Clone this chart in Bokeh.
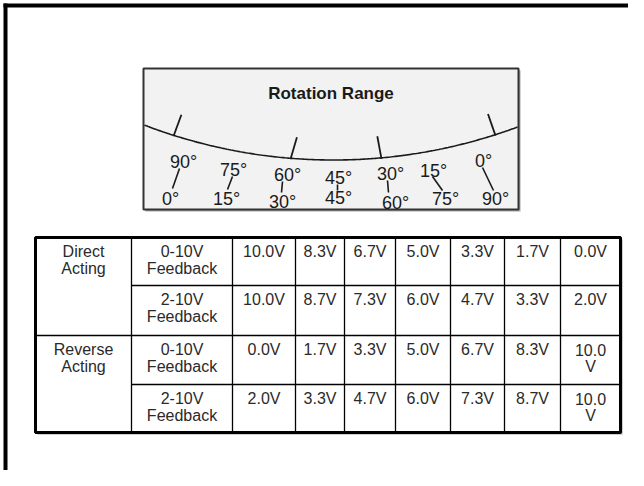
import numpy as np
from bokeh.plotting import figure
from bokeh.models import ColumnDataSource, Range1d
from bokeh.core.properties import value
from bokeh.embed import file_html
from bokeh.resources import INLINE

# ---------------- data ----------------
dial_title = "Rotation Range"
dial_top_labels = ["90°", "75°", "60°", "45°", "30°", "15°", "0°"]
dial_bottom_labels = ["0°", "15°", "30°", "45°", "60°", "75°", "90°"]

action_modes = ["Direct\nActing", "Reverse\nActing"]
feedback_types = ["0-10V\nFeedback", "2-10V\nFeedback"]
direct_0_10 = [10.0, 8.3, 6.7, 5.0, 3.3, 1.7, 0.0]
direct_2_10 = [10.0, 8.7, 7.3, 6.0, 4.7, 3.3, 2.0]
reverse_0_10 = [0.0, 1.7, 3.3, 5.0, 6.7, 8.3, 10.0]
reverse_2_10 = [2.0, 3.3, 4.7, 6.0, 7.3, 8.7, 10.0]

# ---------------- layout (pixels of the picture) ----------------
DY = -5  # baseline correction for the renderer
gauge_box = dict(left=143, right=518, top=68, bottom=209)
arc_cx, arc_R, arc_low = 333, 530, 159.5
tick_x = [173, 290, 381, 495]
tick_tilt = [21, 17, -11, -20]
tick_len = 22
top_lab_x = [183, 233, 287, 338, 390, 433, 483]
top_lab_y = [166, 174, 179, 182, 178, 175, 165]
bot_lab_x = [170, 226, 282, 338, 395, 445, 495]
bot_lab_y = [203, 203, 206, 202, 207, 203, 203]
lead_x0 = [179, 232, 282, 337, 387, 432, 482]
lead_y0 = [168, 176, 181, 184, 180, 176, 167]
lead_x1 = [172, 227, 281, 337, 388, 442, 493]
lead_y1 = [188, 189, 192, 190, 192, 190, 190]

col_edges = [35, 131, 232, 295, 344, 395, 450, 504, 560, 620]
row_edges = [237, 285, 335, 384, 432]

FONT = value("Liberation Sans")

p = figure(width=628, height=470, x_range=Range1d(0, 628), y_range=Range1d(470, 0),
           output_backend="svg", toolbar_location=None, min_border=0,
           x_axis_location=None, y_axis_location=None)
p.grid.visible = False
p.outline_line_color = None
p.background_fill_color = "white"
p.border_fill_color = "white"

# outer frame (top and left heavy rules)
p.segment(x0=[3, 5], y0=[5, 3], x1=[628, 5], y1=[5, 470],
          line_color="black", line_width=4)

# ---------------- gauge ----------------
p.quad(left=gauge_box["left"] + 2, right=gauge_box["right"] + 2,
       top=gauge_box["top"] + 2, bottom=gauge_box["bottom"] + 2,
       fill_color="#a8a8a8", line_color=None)
p.quad(**gauge_box, fill_color="#f2f2f2", line_color="#333333", line_width=2)

cy = arc_low - arc_R
ax = np.linspace(gauge_box["left"] + 1, gauge_box["right"] - 1, 200)
ay = cy + np.sqrt(arc_R ** 2 - (ax - arc_cx) ** 2)
p.line(ax, ay, line_color="#1a1a1a", line_width=1.6)

tx = np.array(tick_x, dtype=float)
ty = cy + np.sqrt(arc_R ** 2 - (tx - arc_cx) ** 2)
tt = np.radians(tick_tilt)
p.segment(x0=tx, y0=ty + 1, x1=tx + tick_len * np.sin(tt), y1=ty - tick_len * np.cos(tt),
          line_color="#1a1a1a", line_width=1.8)

p.text(x=[(gauge_box["left"] + gauge_box["right"]) / 2], y=[98 + DY], text=[dial_title],
       text_font=FONT, text_font_size="17px", text_font_style="bold",
       text_align="center", text_baseline="alphabetic", text_color="#1a1a1a")

p.text(x=top_lab_x, y=[v + DY for v in top_lab_y], text=dial_top_labels, text_font=FONT,
       text_font_size="18px", text_align="center", text_baseline="alphabetic",
       text_color="#1a1a1a")
p.text(x=bot_lab_x, y=[v + DY for v in bot_lab_y], text=dial_bottom_labels, text_font=FONT,
       text_font_size="18px", text_align="center", text_baseline="alphabetic",
       text_color="#1a1a1a")
p.segment(x0=lead_x0, y0=lead_y0, x1=lead_x1, y1=lead_y1,
          line_color="#1a1a1a", line_width=1.6)

# ---------------- table ----------------
L, R_, T, B = col_edges[0], col_edges[-1], row_edges[0], row_edges[-1]
p.quad(left=L + 2, right=R_ + 2, top=T + 2, bottom=B + 2, fill_color="#a0a0a0", line_color=None)
p.quad(left=L, right=R_, top=T, bottom=B, fill_color="white", line_color=None)

# interior rules
vx = col_edges[1:-1]
p.segment(x0=vx, y0=[T] * len(vx), x1=vx, y1=[B] * len(vx), line_color="black", line_width=1.3)
hx0 = [col_edges[1], L, col_edges[1]]
hy = [row_edges[1], row_edges[2], row_edges[3]]
p.segment(x0=hx0, y0=hy, x1=[R_] * 3, y1=hy, line_color="black", line_width=1.3)
# outer border
p.quad(left=L, right=R_, top=T, bottom=B, fill_color=None, line_color="black", line_width=3)

rows = [direct_0_10, direct_2_10, reverse_0_10, reverse_2_10]
cells_x, cells_y, cells_t = [], [], []


def add_cell(ci, ri, label):
    cxm = (col_edges[ci] + col_edges[ci + 1]) / 2
    for k, line in enumerate(label.split("\n")):
        cells_x.append(cxm)
        cells_y.append(row_edges[ri] + 19 + 17 * k + DY)
        cells_t.append(line)


for mi, mode in enumerate(action_modes):
    add_cell(0, 2 * mi, mode)
    for fi, fb in enumerate(feedback_types):
        add_cell(1, 2 * mi + fi, fb)

for ri, vals in enumerate(rows):
    for vi, v in enumerate(vals):
        s = f"{v:.1f}V"
        ci = vi + 2
        if (col_edges[ci + 1] - col_edges[ci]) < 62 and len(s) > 4:
            s = s[:-1] + "\n" + s[-1]
        add_cell(ci, ri, s)

src = ColumnDataSource(dict(x=cells_x, y=cells_y, t=cells_t))
p.text(x="x", y="y", text="t", source=src, text_font=FONT, text_font_size="16px",
       text_align="center", text_baseline="alphabetic", text_color="#2a2a2a")

open("out.html", "w").write(file_html(p, INLINE))
